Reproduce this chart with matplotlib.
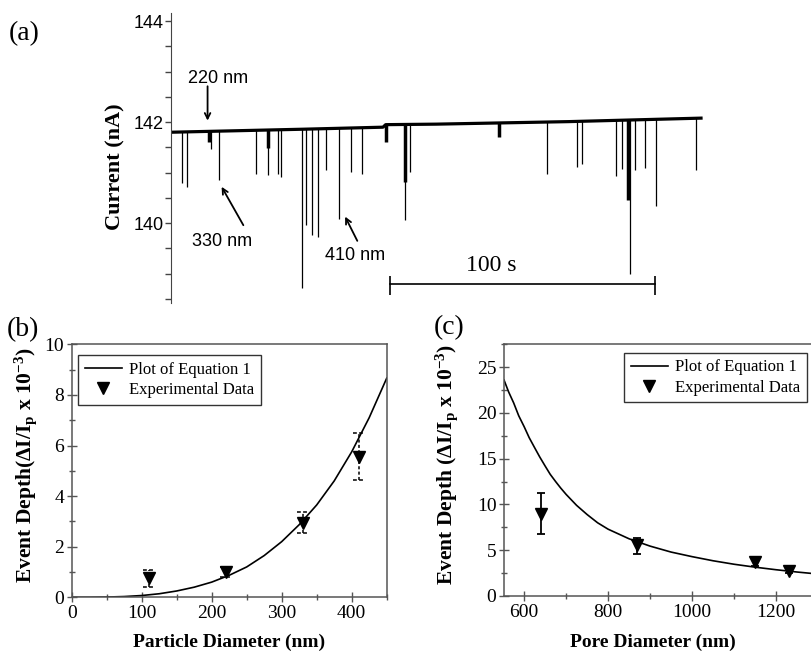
import matplotlib
matplotlib.use("Agg")
import matplotlib.pyplot as plt
import numpy as np
from matplotlib.ticker import MultipleLocator

serif = "Liberation Serif"   # Times 대용
sans = "Liberation Sans"     # Arial 대용
plt.rcParams["mathtext.fontset"] = "custom"
plt.rcParams["mathtext.rm"] = serif
plt.rcParams["mathtext.bf"] = serif + ":bold"
plt.rcParams["mathtext.it"] = serif + ":italic"

# (a) 전류 트레이스: 기준선과 스파이크 (시간 s, 전류 nA)
base_t = [0, 50, 80, 81, 100, 150, 200.6]
base_i = [141.80, 141.86, 141.90, 141.95, 141.96, 142.01, 142.08]
spike_t = [4.0, 6.2, 15.1, 18.1, 32.0, 36.5, 40.3, 41.5, 49.3, 50.8, 53.3, 55.6,
           58.4, 63.5, 67.8, 72.2, 88.3, 90.2, 141.8, 153.1, 155.2, 167.8, 170.1,
           173.1, 175.0, 178.9, 183.1, 198.0]
spike_i = [140.79, 140.71, 141.47, 140.85, 140.98, 140.95, 140.98, 140.92, 138.71,
           139.96, 139.76, 139.73, 141.05, 140.09, 141.02, 140.98, 140.06, 141.02,
           140.98, 141.11, 141.18, 140.93, 141.07, 139.00, 141.05, 141.10, 140.34,
           141.06]
# 넓은 딥
dip_t = [14.3, 36.5, 81.0, 88.3, 123.8, 172.6]
dip_i = [141.61, 141.48, 141.61, 140.82, 141.71, 140.45]

# (b) 입자 지름
d_curve = [0, 25, 50, 75, 100, 125, 150, 175, 200, 225, 250, 275, 300, 325, 350,
           375, 400, 425, 450]
dep_curve = [0, 0.0, 0.01, 0.03, 0.07, 0.14, 0.25, 0.4, 0.6, 0.87, 1.2, 1.65, 2.2,
             2.87, 3.65, 4.6, 5.75, 7.1, 8.66]
d_exp = [110, 220, 330, 410]
dep_exp = [0.75, 1.01, 2.95, 5.53]
dep_lo = [0.42, 0.81, 2.53, 4.64]
dep_hi = [1.08, 1.21, 3.38, 6.48]

# (c) 포어 지름
p_curve = [552, 563, 575, 587, 600, 612, 625, 637, 650, 662, 675, 687, 700, 725, 750,
           775, 800, 850, 900, 950, 1000, 1050, 1100, 1150, 1200, 1250, 1300]
pdep_curve = [23.6, 22.3, 21.1, 19.7, 18.5, 17.3, 16.2, 15.2, 14.2, 13.3, 12.5, 11.8,
              11.1, 9.9, 8.9, 8.0, 7.3, 6.25, 5.45, 4.8, 4.3, 3.85, 3.47, 3.15, 2.87,
              2.62, 2.4]
p_exp = [640, 870, 1150, 1230]
pdep_exp = [8.95, 5.57, 3.67, 2.73]
pdep_lo = [6.74, 4.58, 3.27, 2.53]
pdep_hi = [11.2, 6.37, 4.0, 2.93]

fig = plt.figure(figsize=(8.12, 6.53), dpi=100)
W, H = 812.0, 653.0

def box(x0, y0, x1, y1):
    return [x0 / W, 1 - y1 / H, (x1 - x0) / W, (y1 - y0) / H]

# ---------- (a) ----------
ax = fig.add_axes(box(171, 13, 705, 303))
ax.set_xlim(0, 201.5)
ax.set_ylim(138.42, 144.16)
ax.plot(base_t, base_i, color="black", lw=2.3, solid_capstyle="butt")
ax.vlines(spike_t, spike_i, np.interp(spike_t, base_t, base_i), color="black", lw=0.9)
ax.vlines(dip_t, dip_i, np.interp(dip_t, base_t, base_i), color="black", lw=2.5)
for s in ["top", "right", "bottom"]:
    ax.spines[s].set_visible(False)
ax.spines["left"].set_color("#444444")
ax.set_xticks([])
ax.set_yticks([140, 142, 144])
ax.yaxis.set_minor_locator(MultipleLocator(0.5))
ax.tick_params(axis="y", which="both", direction="out", length=4, width=1,
               color="#444444", pad=1)
for lab in ax.get_yticklabels():
    lab.set_fontfamily(sans)
    lab.set_fontsize(13)
ax.set_ylabel("Current (nA)", fontfamily=serif, fontweight="bold", fontsize=16)
ax.yaxis.set_label_coords(-0.085, 0.469)

# 스케일 바
ax.plot([82.5, 182.5], [138.79, 138.79], color="black", lw=1.2)
ax.vlines([82.5, 182.5], 138.57, 138.95, color="black", lw=1.2)
ax.text(121, 139.17, "100 s", fontfamily=serif, fontsize=17, ha="center", va="center")

arw = dict(arrowstyle="->", color="black", lw=1.3, shrinkA=0, shrinkB=0)
ax.annotate("", xy=(13.8, 142.03), xytext=(13.8, 142.71), arrowprops=arw)
ax.text(17.6, 142.86, "220 nm", fontfamily=sans, fontsize=13, ha="center", va="center")
ax.annotate("", xy=(19.1, 140.72), xytext=(27.3, 139.96), arrowprops=arw)
ax.text(19.4, 139.64, "330 nm", fontfamily=sans, fontsize=13, ha="center", va="center")
ax.annotate("", xy=(65.7, 140.13), xytext=(70.3, 139.65), arrowprops=arw)
ax.text(69.4, 139.36, "410 nm", fontfamily=sans, fontsize=13, ha="center", va="center")

fig.text(24 / W, 1 - 34 / H, "(a)", fontfamily=serif, fontsize=20, ha="center", va="center")


def style_axes(a):
    for s in a.spines.values():
        s.set_color("#555555")
        s.set_linewidth(1.1)
    a.tick_params(which="major", direction="inout", length=7, width=1, color="#555555",
                  labelsize=14, pad=2)
    a.tick_params(which="minor", direction="inout", length=5, width=1, color="#555555")
    for lab in a.get_xticklabels() + a.get_yticklabels():
        lab.set_fontfamily(serif)


leg_kw = dict(loc="upper left", bbox_transform=fig.transFigure, borderaxespad=0,
              fancybox=False, edgecolor="#333333", framealpha=1,
              prop={"family": serif, "size": 12}, handlelength=2.2, handletextpad=0.45,
              labelspacing=0.25, borderpad=0.4)

# ---------- (b) ----------
bx = fig.add_axes(box(71.7, 344.3, 386.7, 597.3))
bx.plot(d_curve, dep_curve, color="black", lw=1.2, label="Plot of Equation 1")
bx.vlines(d_exp, dep_lo, dep_hi, color="black", lw=1.1, linestyles=(0, (2, 1.5)))
capw = 7.5
bx.hlines(dep_lo, np.array(d_exp) - capw, np.array(d_exp) + capw, color="black", lw=1.1,
          linestyles=(0, (2.5, 1.5)))
bx.hlines(dep_hi, np.array(d_exp) - capw, np.array(d_exp) + capw, color="black", lw=1.1,
          linestyles=(0, (2.5, 1.5)))
bx.plot(d_exp, dep_exp, "v", color="black", ms=8, ls="none", label="Experimental Data")
bx.set_xlim(0, 450)
bx.set_ylim(0, 10)
bx.set_xticks([0, 100, 200, 300, 400])
bx.set_yticks([0, 2, 4, 6, 8, 10])
bx.xaxis.set_minor_locator(MultipleLocator(50))
bx.yaxis.set_minor_locator(MultipleLocator(1))
style_axes(bx)
bx.set_xlabel("Particle Diameter (nm)", fontfamily=serif, fontweight="bold", fontsize=14)
bx.xaxis.set_label_coords(0.5, -0.145)
bx.set_ylabel(r"Event Depth($\mathbf{\Delta I/I_p}$ x 10$^\mathbf{-3}$)",
              fontfamily=serif, fontweight="bold", fontsize=15.5)
bx.yaxis.set_label_coords(-0.105, 0.523)
lg = bx.legend(bbox_to_anchor=(78.3 / W, 1 - 355 / H), **leg_kw)
lg.get_frame().set_linewidth(1.0)
fig.text(23 / W, 1 - 330 / H, "(b)", fontfamily=serif, fontsize=20, ha="center", va="center")

# ---------- (c) ----------
cx = fig.add_axes(box(504, 344.3, 818, 596))
cx.plot(p_curve, pdep_curve, color="black", lw=1.2, label="Plot of Equation 1")
cx.errorbar(p_exp, pdep_exp,
            yerr=[np.array(pdep_exp) - np.array(pdep_lo), np.array(pdep_hi) - np.array(pdep_exp)],
            fmt="none", ecolor="black", elinewidth=1.3, capsize=3, capthick=1.3)
cx.plot(p_exp, pdep_exp, "v", color="black", ms=8, ls="none", label="Experimental Data")
cx.set_xlim(552, 1300)
cx.set_ylim(0, 27.5)
cx.set_xticks([600, 800, 1000, 1200])
cx.set_yticks([0, 5, 10, 15, 20, 25])
cx.xaxis.set_minor_locator(MultipleLocator(100))
cx.yaxis.set_minor_locator(MultipleLocator(2.5))
style_axes(cx)
cx.set_xlabel("Pore Diameter (nm)", fontfamily=serif, fontweight="bold", fontsize=14)
cx.xaxis.set_label_coords(0.473, -0.15)
cx.set_ylabel(r"Event Depth ($\mathbf{\Delta I/I_p}$ x 10$^\mathbf{-3}$)",
              fontfamily=serif, fontweight="bold", fontsize=15.5)
cx.yaxis.set_label_coords(-0.14, 0.524)
lg2 = cx.legend(bbox_to_anchor=(624.3 / W, 1 - 352.7 / H), **leg_kw)
lg2.get_frame().set_linewidth(1.0)
fig.text(449 / W, 1 - 328 / H, "(c)", fontfamily=serif, fontsize=20, ha="center", va="center")

fig.savefig("out.png", dpi=100)
